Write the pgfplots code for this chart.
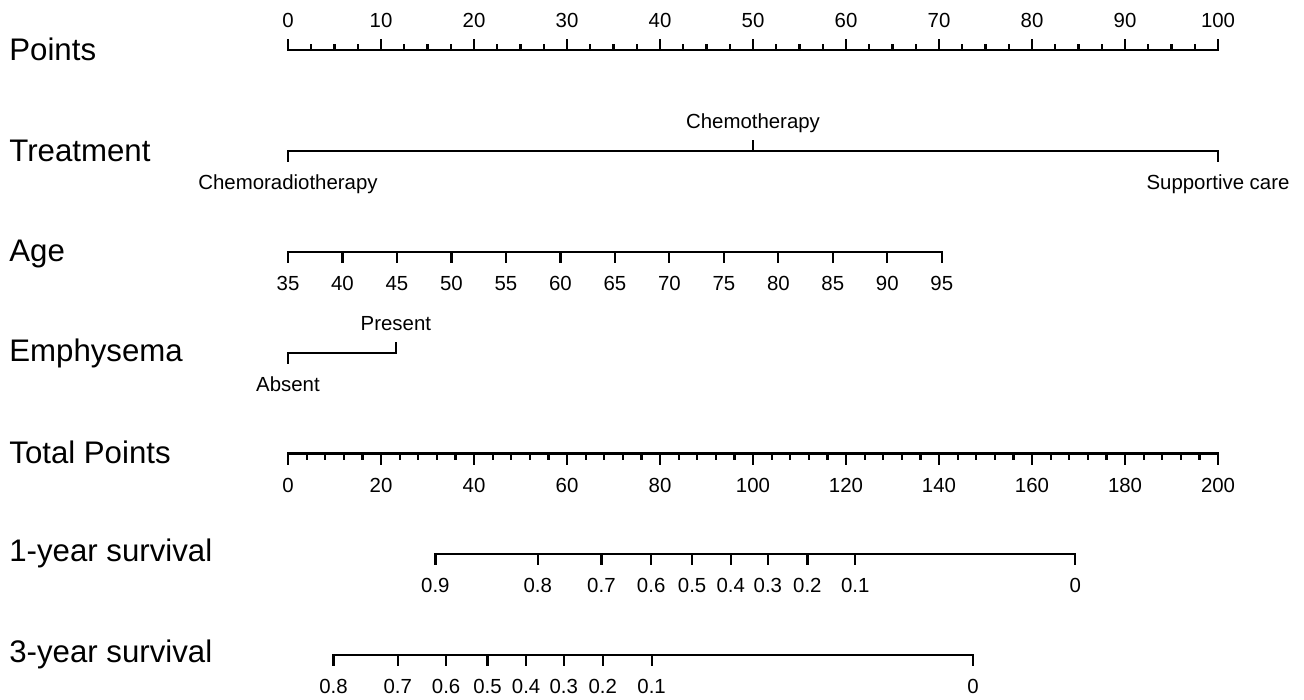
\documentclass[border=0pt]{standalone}
\usepackage{fontspec}
\setmainfont{Liberation Sans}
\usepackage{pgfplots}
\usepackage{pgfplotstable}
\pgfplotsset{compat=1.18}

% ---------- data (x in the row's own units) ----------
\pgfplotstableread[col sep=comma]{
pts,lab
0,0
10,10
20,20
30,30
40,40
50,50
60,60
70,70
80,80
90,90
100,100
}\pointsmajor
\pgfplotstableread[col sep=comma]{
pts,k
2.5,1
5,1
7.5,1
12.5,1
15,1
17.5,1
22.5,1
25,1
27.5,1
32.5,1
35,1
37.5,1
42.5,1
45,1
47.5,1
52.5,1
55,1
57.5,1
62.5,1
65,1
67.5,1
72.5,1
75,1
77.5,1
82.5,1
85,1
87.5,1
92.5,1
95,1
97.5,1
}\pointsminor
\pgfplotstableread[col sep=comma]{
pts,lab
0,Chemoradiotherapy
100,Supportive care
}\treatdown
\pgfplotstableread[col sep=comma]{
pts,lab
50,Chemotherapy
}\treatup
\pgfplotstableread[col sep=comma]{
age,lab
35,35
40,40
45,45
50,50
55,55
60,60
65,65
70,70
75,75
80,80
85,85
90,90
95,95
}\agetab
\pgfplotstableread[col sep=comma]{
pts,lab
0,Absent
}\emphdown
\pgfplotstableread[col sep=comma]{
pts,lab
11.6,Present
}\emphup
\pgfplotstableread[col sep=comma]{
tp,lab
0,0
20,20
40,40
60,60
80,80
100,100
120,120
140,140
160,160
180,180
200,200
}\totalmajor
\pgfplotstableread[col sep=comma]{
tp,k
4,1
8,1
12,1
16,1
24,1
28,1
32,1
36,1
44,1
48,1
52,1
56,1
64,1
68,1
72,1
76,1
84,1
88,1
92,1
96,1
104,1
108,1
112,1
116,1
124,1
128,1
132,1
136,1
144,1
148,1
152,1
156,1
164,1
168,1
172,1
176,1
184,1
188,1
192,1
196,1
}\totalminor
\pgfplotstableread[col sep=comma]{
tp,lab
31.7,0.9
53.7,0.8
67.4,0.7
78.1,0.6
86.9,0.5
95.2,0.4
103.2,0.3
111.7,0.2
122.0,0.1
169.3,0
}\oneyear
\pgfplotstableread[col sep=comma]{
tp,lab
9.8,0.8
23.6,0.7
34.0,0.6
42.9,0.5
51.2,0.4
59.3,0.3
67.7,0.2
78.2,0.1
147.3,0
}\threeyear

\pgfplotsset{
  tickup/.style={quiver={u=0,v=-10}},
  tickdown/.style={quiver={u=0,v=10}},
  minorup/.style={quiver={u=0,v=-5}},
  minordown/.style={quiver={u=0,v=5}},
  labbelow/.style={nodes near coords, point meta=explicit symbolic,
    every node near coord/.append style={anchor=base, yshift=-19.3pt, inner sep=0pt,
      font=\fontsize{10.2}{12}\selectfont, text=black}},
  lababove/.style={nodes near coords, point meta=explicit symbolic,
    every node near coord/.append style={anchor=base, yshift=11.4pt, inner sep=0pt,
      font=\fontsize{10.2}{12}\selectfont, text=black}},
}
\tikzset{rowlab/.style={anchor=base west, inner sep=0pt, font=\fontsize{15.6}{18}\selectfont}}

\begin{document}
\begin{tikzpicture}
\begin{axis}[
  scale only axis, width=652pt, height=350pt,
  xmin=-30.9677, xmax=109.2473, ymin=0, ymax=700, y dir=reverse,
  hide axis, clip=false,
  cycle list={{black,solid,mark=none}},
  every axis plot/.append style={line width=1.1pt, black, solid, mark=none, line cap=rect},
]
% keep the page as large as the whole axis area
\path (rel axis cs:0,0) rectangle (rel axis cs:1,1);
% ---- Points ----
\addplot coordinates {(0,50.2) (100,50.2)};
\addplot[tickup, lababove] table[x=pts, y expr=50.2, meta=lab] {\pointsmajor};
\addplot[minorup] table[x=pts, y expr=50.2] {\pointsminor};
% ---- Treatment ----
\addplot coordinates {(0,151.4) (100,151.4)};
\addplot[tickdown, labbelow] table[x=pts, y expr=151.4, meta=lab] {\treatdown};
\addplot[tickup, lababove] table[x=pts, y expr=151.4, meta=lab] {\treatup};
% ---- Age ----
\addplot table[x expr=(\thisrow{age}-35)*70.3/60, y expr=252.2] {\agetab};
\addplot[tickdown, labbelow] table[x expr=(\thisrow{age}-35)*70.3/60, y expr=252.2, meta=lab] {\agetab};
% ---- Emphysema ----
\addplot coordinates {(0,352.8) (11.6,352.8)};
\addplot[tickdown, labbelow] table[x=pts, y expr=352.8, meta=lab] {\emphdown};
\addplot[tickup, lababove] table[x=pts, y expr=352.8, meta=lab] {\emphup};
% ---- Total Points ----
\addplot table[x expr=\thisrow{tp}/2, y expr=453.4] {\totalmajor};
\addplot[tickdown, labbelow] table[x expr=\thisrow{tp}/2, y expr=453.4, meta=lab] {\totalmajor};
\addplot[minordown] table[x expr=\thisrow{tp}/2, y expr=453.4] {\totalminor};
% ---- 1-year survival ----
\addplot table[x expr=\thisrow{tp}/2, y expr=554.2] {\oneyear};
\addplot[tickdown, labbelow] table[x expr=\thisrow{tp}/2, y expr=554.2, meta=lab] {\oneyear};
% ---- 3-year survival ----
\addplot table[x expr=\thisrow{tp}/2, y expr=654.9] {\threeyear};
\addplot[tickdown, labbelow] table[x expr=\thisrow{tp}/2, y expr=654.9, meta=lab] {\threeyear};
% ---- row labels ----
\node[rowlab] at (axis cs:-30.0,60.7) {Points};
\node[rowlab] at (axis cs:-30.0,161.5) {Treatment};
\node[rowlab] at (axis cs:-30.0,261.0) {Age};
\node[rowlab] at (axis cs:-30.0,361.0) {Emphysema};
\node[rowlab] at (axis cs:-30.0,463.5) {Total Points};
\node[rowlab] at (axis cs:-30.0,561.8) {1-year survival};
\node[rowlab] at (axis cs:-30.0,662.5) {3-year survival};
\end{axis}
\end{tikzpicture}
\end{document}
